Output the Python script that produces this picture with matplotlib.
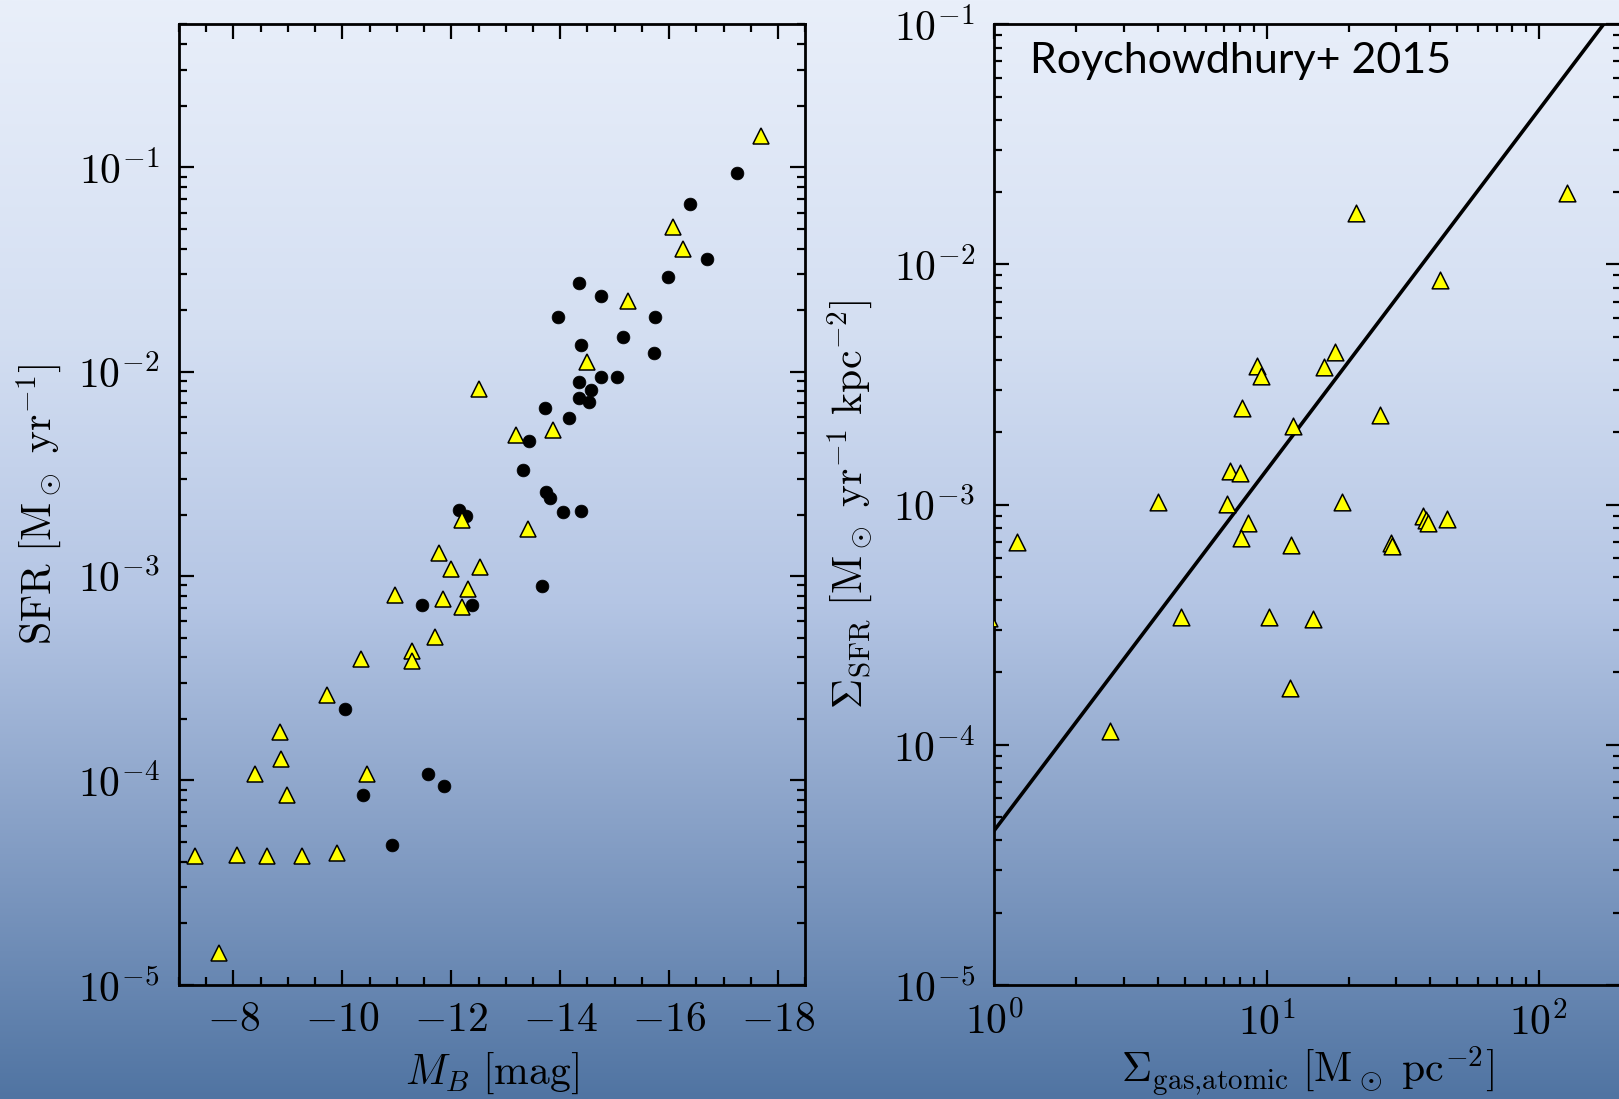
import numpy as np
import matplotlib
matplotlib.use("Agg")
import matplotlib.pyplot as plt
from matplotlib.ticker import MultipleLocator, LogLocator, NullFormatter

plt.rcParams["font.family"] = "serif"
plt.rcParams["font.serif"] = ["cmr10"]
plt.rcParams["mathtext.fontset"] = "cm"
plt.rcParams["axes.formatter.use_mathtext"] = True
plt.rcParams["axes.unicode_minus"] = True

# ---- Left panel: SFR vs absolute B magnitude ----
mb_circ = [-17.25, -16.38, -16.69, -15.98, -14.34, -14.74, -13.95, -15.74, -15.16,
           -14.38, -15.73, -14.35, -14.74, -15.04, -14.57, -14.34, -14.52, -13.72,
           -14.16, -13.43, -13.31, -13.74, -13.82, -14.05, -14.39, -12.15, -12.27,
           -13.67, -11.46, -12.38, -10.04, -11.57, -11.87, -10.38, -10.91]
sfr_circ = [0.0936, 0.066, 0.0354, 0.0289, 0.027, 0.0234, 0.0185, 0.0185, 0.0147,
            0.01345, 0.0123, 0.00891, 0.0094, 0.0094, 0.00815, 0.00747, 0.00709, 0.00667,
            0.0059, 0.00457, 0.00332, 0.00258, 0.0024, 0.00205, 0.00209, 0.0021, 0.00197,
            0.000895, 0.000724, 0.000724, 0.000224, 0.000107, 0.0000938, 0.0000853, 0.0000481]

mb_tri = [-17.69, -16.07, -16.25, -15.25, -14.49, -12.51, -13.87, -13.18, -12.20,
          -13.41, -11.77, -12.00, -12.53, -12.31, -10.97, -11.84, -12.20, -11.71,
          -11.28, -11.27, -10.34, -9.71, -8.85, -8.88, -8.39, -10.45, -8.99,
          -7.29, -8.06, -8.61, -9.26, -9.90, -7.73]
sfr_tri = [0.1426, 0.0509, 0.0398, 0.0221, 0.01115, 0.00822, 0.00517, 0.00487, 0.00189,
           0.00169, 0.00129, 0.00108, 0.00111, 0.000861, 0.000807, 0.000775, 0.000703, 0.000501,
           0.00043, 0.000384, 0.000391, 0.000261, 0.000172, 0.000128, 0.000107, 0.000107, 0.0000847,
           0.0000428, 0.0000432, 0.0000428, 0.0000425, 0.0000441, 0.0000144]

# ---- Right panel: SFR surface density vs atomic gas surface density ----
sig_gas = [126.5, 21.3, 43.4, 17.9, 16.2, 9.24, 9.50, 8.11, 26.2, 12.47, 7.36, 7.97,
           4.0, 7.14, 18.9, 8.56, 37.6, 38.5, 39.3, 45.8, 1.215, 8.03, 12.27, 28.7,
           28.9, 0.96, 4.83, 10.2, 14.86, 12.15, 2.66]
sig_sfr = [0.0198, 0.01644, 0.00865, 0.00434, 0.00374, 0.00377, 0.00344, 0.00253,
           0.00237, 0.00213, 0.00138, 0.00136, 0.00103, 0.00101, 0.00103, 0.000841,
           0.000895, 0.00086, 0.000841, 0.000873, 0.000698, 0.000728, 0.00068, 0.00069,
           0.000672, 0.000336, 0.00034, 0.00034, 0.000335, 0.000173, 0.000114]

# Power-law relation drawn across the panel
ks_norm = 4.4e-5
ks_index = 1.5
ks_range = [1.0, 200.0]

W, H = 1619, 1099
fig = plt.figure(figsize=(W / 100, H / 100), dpi=100)

# Vertical blue gradient background
bg = fig.add_axes([0, 0, 1, 1], zorder=-10)
stops = np.array([0.0, 0.30, 0.55, 0.80, 1.0])
cols = np.array([[233, 239, 250], [212, 223, 242], [180, 197, 228],
                 [125, 152, 192], [80, 116, 162]]) / 255.0
t = np.linspace(0, 1, 512)
grad = np.stack([np.interp(t, stops, cols[:, k]) for k in range(3)], axis=-1)
bg.imshow(grad[:, None, :], aspect="auto", extent=[0, 1, 0, 1], origin="upper")
bg.set_axis_off()

ax1 = fig.add_axes([178.9 / W, 1 - 984.9 / H, 626.5 / W, 960.6 / H])
ax2 = fig.add_axes([994.3 / W, 1 - 984.9 / H, 626.5 / W, 960.6 / H])

fs = 30
for ax in (ax1, ax2):
    ax.patch.set_alpha(0)
    for s in ax.spines.values():
        s.set_linewidth(2.0)
    ax.tick_params(which="both", direction="in", top=True, right=True,
                   labelsize=fs, width=1.6)
    ax.tick_params(which="major", length=11)
    ax.tick_params(which="minor", length=5.5)
    ax.tick_params(axis="y", pad=14)
    ax.tick_params(axis="x", pad=12)

tri_ms = 12
tri_kw = dict(marker="^", ls="none", ms=tri_ms, mfc="#ffff00", mec="black", mew=1.1)
circ_kw = dict(marker="o", ls="none", ms=9.2, mfc="black", mec="black", mew=0.5)

ax1.plot(mb_circ, sfr_circ, **circ_kw)
ax1.plot(mb_tri, sfr_tri, **tri_kw)
ax1.set_yscale("log")
ax1.set_xlim(-7, -18.5)
ax1.set_ylim(1e-5, 0.5)
ax1.xaxis.set_major_locator(MultipleLocator(2))
ax1.xaxis.set_minor_locator(MultipleLocator(0.5))
ax1.yaxis.set_major_locator(LogLocator(base=10, numticks=20))
ax1.yaxis.set_minor_locator(LogLocator(base=10, subs=np.arange(2, 10), numticks=20))
ax1.yaxis.set_minor_formatter(NullFormatter())
ax1.set_xlabel(r"$M_B\ [\mathrm{mag}]$", fontsize=fs)
ax1.set_ylabel(r"$\mathrm{SFR}\ [\mathrm{M}_\odot\ \mathrm{yr}^{-1}]$", fontsize=fs)
ax1.xaxis.set_label_coords(0.5, -0.068)
ax1.yaxis.set_label_coords(-0.184, 0.5)

g = np.array(ks_range)
ax2.plot(g, ks_norm * g ** ks_index, color="black", lw=2.6)
# scatter so that markers straddling the frame are clipped rather than dropped
ax2.scatter(sig_gas, sig_sfr, marker="^", s=tri_ms ** 2, facecolor="#ffff00",
            edgecolor="black", linewidths=1.1, zorder=3)
ax2.set_xscale("log")
ax2.set_yscale("log")
ax2.set_xlim(1, 200)
ax2.set_ylim(1e-5, 0.1)
for axis in (ax2.xaxis, ax2.yaxis):
    axis.set_major_locator(LogLocator(base=10, numticks=20))
    axis.set_minor_locator(LogLocator(base=10, subs=np.arange(2, 10), numticks=20))
    axis.set_minor_formatter(NullFormatter())
ax2.set_xlabel(r"$\Sigma_\mathrm{gas{,}atomic}\ [\mathrm{M}_\odot\ \mathrm{pc}^{-2}]$", fontsize=fs)
ax2.set_ylabel(r"$\Sigma_\mathrm{SFR}\ [\mathrm{M}_\odot\ \mathrm{yr}^{-1}\ \mathrm{kpc}^{-2}]$", fontsize=fs)
ax2.xaxis.set_label_coords(0.5, -0.062)
ax2.yaxis.set_label_coords(-0.190, 0.5)

ax2.text(1030.0 / W, 1 - 72.7 / H, "Roychowdhury+ 2015", transform=fig.transFigure,
         family="Lato", fontsize=31, ha="left", va="baseline", color="black")

fig.savefig("out.png", dpi=100)
